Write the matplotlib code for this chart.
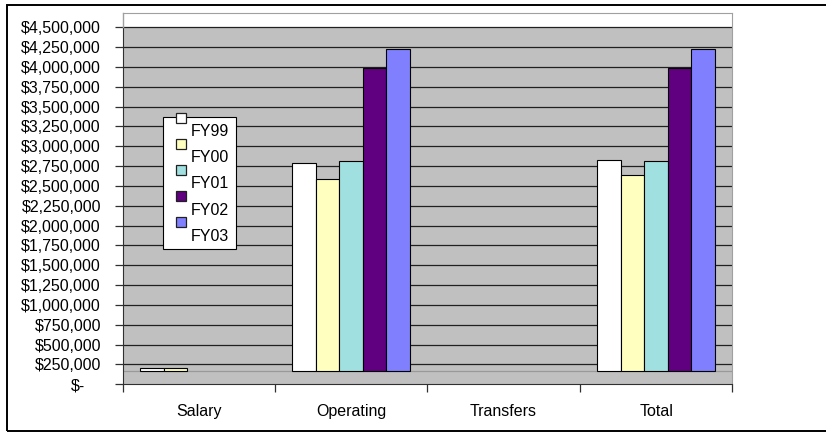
# Budget by fiscal year - grouped columns, Excel style
import numpy as np
import matplotlib.pyplot as plt
from matplotlib.patches import Rectangle
from matplotlib.ticker import FuncFormatter, FixedLocator
from matplotlib.transforms import ScaledTranslation

plt.rcParams['font.family'] = ['Liberation Sans', 'DejaVu Sans']

# Data
categories = ['Salary', 'Operating', 'Transfers', 'Total']
series = ['FY99', 'FY00', 'FY01', 'FY02', 'FY03']
fy99 = [34000, 2625000, 0, 2659000]
fy00 = [42000, 2424000, 0, 2466000]
fy01 = [0, 2651000, 0, 2651000]
fy02 = [0, 3815000, 0, 3815000]
fy03 = [0, 4055000, 0, 4055000]
colors = ['#FFFFFF', '#FFFFC0', '#A0E0E0', '#600080', '#8080FF']

# columns stand on the chart floor, a little above the axis line
floor = 168000

W, H = 826, 432
fig = plt.figure(figsize=(W / 100, H / 100), dpi=100)

def fx(x):
    return x / W

def fy(y):
    return 1 - y / H

# outer chart border (right side runs off the canvas)
fig.patches.append(Rectangle((fx(7), fy(430.5)), fx(840) - fx(7), fy(5) - fy(430.5),
                             transform=fig.transFigure, fill=False,
                             edgecolor='black', linewidth=1.4))

ax = fig.add_axes([fx(122.5), fy(384.3), fx(732.3) - fx(122.5), fy(13.3) - fy(384.3)])
ax.set_facecolor('white')
ymax = 4500000
ax.set_ylim(0, ymax * 371 / 357)
ax.set_xlim(-0.5, 3.5)

# wall and gridlines
ax.axhspan(0, ymax, color='#C0C0C0', zorder=0, linewidth=0)
for v in np.arange(250000, ymax + 1, 250000):
    ax.axhline(v, color='#202020', linewidth=0.9, zorder=1)
ax.axhline(floor, color='#999999', linewidth=0.9, zorder=1)

# bars
x = np.arange(len(categories))
width = 0.154
for j, (name, vals) in enumerate(zip(series, [fy99, fy00, fy01, fy02, fy03])):
    vals = np.array(vals, dtype=float)
    keep = vals > 0
    ax.bar(x[keep] + (j - 2) * width, vals[keep], width=width, bottom=floor,
           color=colors[j], edgecolor='black', linewidth=0.8, zorder=3)

# axes styling
for s in ['top', 'right']:
    ax.spines[s].set_color('#A0A0A0')
ax.spines['left'].set_color('#303030')
ax.spines['left'].set_bounds(0, ymax)
ax.spines['bottom'].set_color('#303030')
ax.plot([0, 0], [ymax, ax.get_ylim()[1]], transform=ax.get_yaxis_transform(),
        color='#A0A0A0', linewidth=1, clip_on=False, zorder=5)

ax.yaxis.set_major_locator(FixedLocator(np.arange(0, ymax + 1, 250000)))
ax.yaxis.set_major_formatter(FuncFormatter(lambda v, p: '$-' if v == 0 else '${:,.0f}'.format(v)))
ax.tick_params(axis='y', length=5.5, width=0.9, color='#303030', pad=10, labelsize=11.5)

ax.xaxis.set_major_locator(FixedLocator([-0.5, 0.5, 1.5, 2.5, 3.5]))
ax.xaxis.set_major_formatter(FuncFormatter(lambda v, p: ''))
ax.xaxis.set_minor_locator(FixedLocator(x))
ax.set_xticklabels(categories, minor=True)
ax.tick_params(axis='x', which='major', length=6, width=0.9, color='#303030')
ax.tick_params(axis='x', which='minor', length=0, pad=14, labelsize=11.5)

# "$-" sits further left, accounting style
fig.canvas.draw()
zero_lab = ax.get_yticklabels()[0]
zero_lab.set_transform(zero_lab.get_transform() + ScaledTranslation(-16 / 100, 0, fig.dpi_scale_trans))

# legend box
fig.patches.append(Rectangle((fx(163.3), fy(249)), fx(236) - fx(163.3), fy(116.7) - fy(249),
                             transform=fig.transFigure, facecolor='white',
                             edgecolor='black', linewidth=0.8, zorder=10))
for j, name in enumerate(series):
    cy = 117.7 + j * 26.15
    fig.patches.append(Rectangle((fx(175.5), fy(cy + 5)), fx(10.5), 10 / H,
                                 transform=fig.transFigure, facecolor=colors[j],
                                 edgecolor='#202020', linewidth=0.9, zorder=11))
    fig.text(fx(190.5), fy(cy + 14), name, fontsize=11.5, va='center', ha='left', zorder=12)

fig.savefig('out.png', dpi=100)
